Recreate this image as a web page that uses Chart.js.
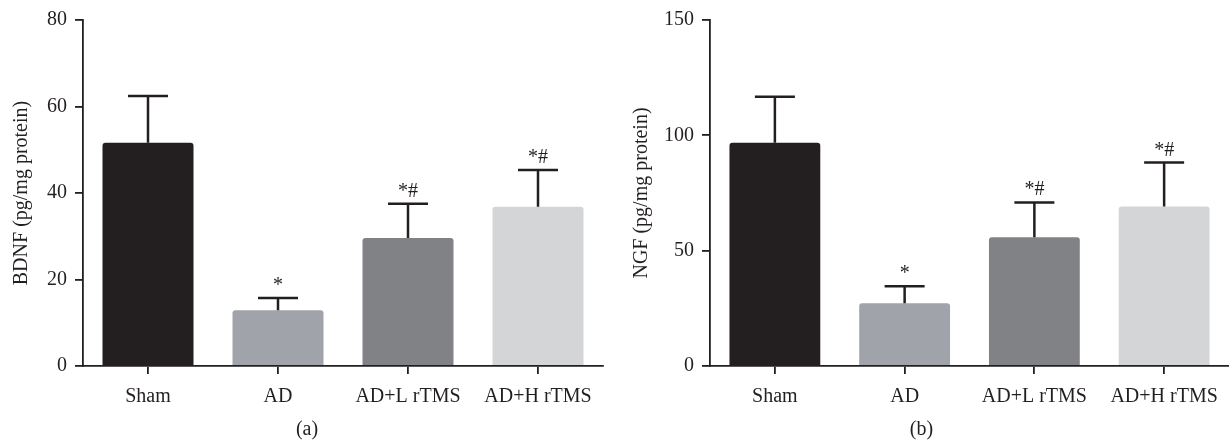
<!DOCTYPE html>
<html lang="en">
<head>
<meta charset="UTF-8">
<title>BDNF / NGF</title>
<script src="https://cdn.jsdelivr.net/npm/chart.js"></script>
<style>
    body{ margin:0; background:#fff; }
    .panel{ position:absolute; top:0; height:442px; }
    #pa{ left:0; width:614px; }
    #pb{ left:614px; width:615px; }
</style>
</head>
<body>
<div class="panel" id="pa"><canvas id="chart-a"></canvas></div>
<div class="panel" id="pb"><canvas id="chart-b"></canvas></div>

<script>
    const groups = ["Sham", "AD", "AD+L rTMS", "AD+H rTMS"]
    const marks = ["", "*", "*#", "*#"]

    const bdnfMean = [51.6, 12.9, 29.6, 36.8]
    const bdnfSD = [10.8, 2.8, 7.9, 8.5]
    const bdnfTicks = [0, 20, 40, 60, 80]

    const ngfMean = [96.8, 27.2, 55.8, 69.2]
    const ngfSD = [19.9, 7.4, 15.1, 19.0]
    const ngfTicks = [0, 50, 100, 150]

    const ink = "#231f20"
    const barColors = ["#231f20", "#a0a3a9", "#818286", "#d4d5d7"]
    const serif = "'Liberation Serif', 'Times New Roman', serif"
    const fs = 20

    // error bars (upper only) + significance marks
    const errorBars = {
        id: "errorBars",
        afterDatasetsDraw(chart, args, opts) {
            const ctx = chart.ctx
            const y = chart.scales.y
            const meta = chart.getDatasetMeta(0)
            ctx.save()
            ctx.strokeStyle = ink
            ctx.lineWidth = 2.5
            ctx.fillStyle = ink
            ctx.font = fs + "px " + serif
            ctx.textAlign = "center"
            ctx.textBaseline = "alphabetic"
            meta.data.forEach((bar, i) => {
                const top = y.getPixelForValue(opts.mean[i] + opts.sd[i])
                ctx.beginPath()
                ctx.moveTo(bar.x, bar.y)
                ctx.lineTo(bar.x, top)
                ctx.moveTo(bar.x - 20, top)
                ctx.lineTo(bar.x + 20, top)
                ctx.stroke()
                if (marks[i]) ctx.fillText(marks[i], bar.x, top - 7)
            })
            ctx.restore()
        },
        afterDraw(chart, args, opts) {
            const ctx = chart.ctx
            ctx.save()
            ctx.fillStyle = ink
            ctx.font = fs + "px " + serif
            ctx.textAlign = "center"
            ctx.textBaseline = "middle"
            ctx.fillText(opts.panel, chart.width / 2, 430)
            ctx.restore()
        }
    }

    function makeChart(id, mean, sd, ticks, title, panel, axisW, titlePad, padRight) {
        new Chart(document.getElementById(id), {
            type: "bar",
            data: {
                labels: groups,
                datasets: [{
                    data: mean,
                    backgroundColor: barColors,
                    borderWidth: 0,
                    borderRadius: { topLeft: 3, topRight: 3 },
                    categoryPercentage: 1,
                    barPercentage: 0.7
                }]
            },
            options: {
                responsive: true,
                maintainAspectRatio: false,
                animation: false,
                layout: { padding: { top: 20, right: padRight, bottom: 0, left: 0 } },
                plugins: {
                    legend: { display: false },
                    tooltip: { enabled: false },
                    errorBars: { mean: mean, sd: sd, panel: panel }
                },
                scales: {
                    x: {
                        afterFit: s => { s.height = 76 },
                        border: { color: ink, width: 1.8 },
                        grid: { offset: false, drawOnChartArea: false, drawTicks: true, tickLength: 8, color: ink, lineWidth: 1.8 },
                        ticks: { color: ink, padding: 11, maxRotation: 0, font: { family: serif, size: fs } }
                    },
                    y: {
                        min: 0,
                        max: ticks[ticks.length - 1],
                        afterBuildTicks: s => { s.ticks = ticks.map(v => ({ value: v })) },
                        afterFit: s => { s.width = axisW },
                        border: { color: ink, width: 1.8 },
                        grid: { drawOnChartArea: false, drawTicks: true, tickLength: 8, color: ink, lineWidth: 1.8 },
                        ticks: { color: ink, padding: 8, font: { family: serif, size: fs } },
                        title: { display: true, text: title, color: ink, padding: titlePad, font: { family: serif, size: fs } }
                    }
                }
            },
            plugins: [errorBars]
        })
    }

    makeChart("chart-a", bdnfMean, bdnfSD, bdnfTicks, "BDNF (pg/mg protein)", "(a)", 83, 10, 11)
    makeChart("chart-b", ngfMean, ngfSD, ngfTicks, "NGF (pg/mg protein)", "(b)", 96, 16, 0)
</script>
</body>
</html>
